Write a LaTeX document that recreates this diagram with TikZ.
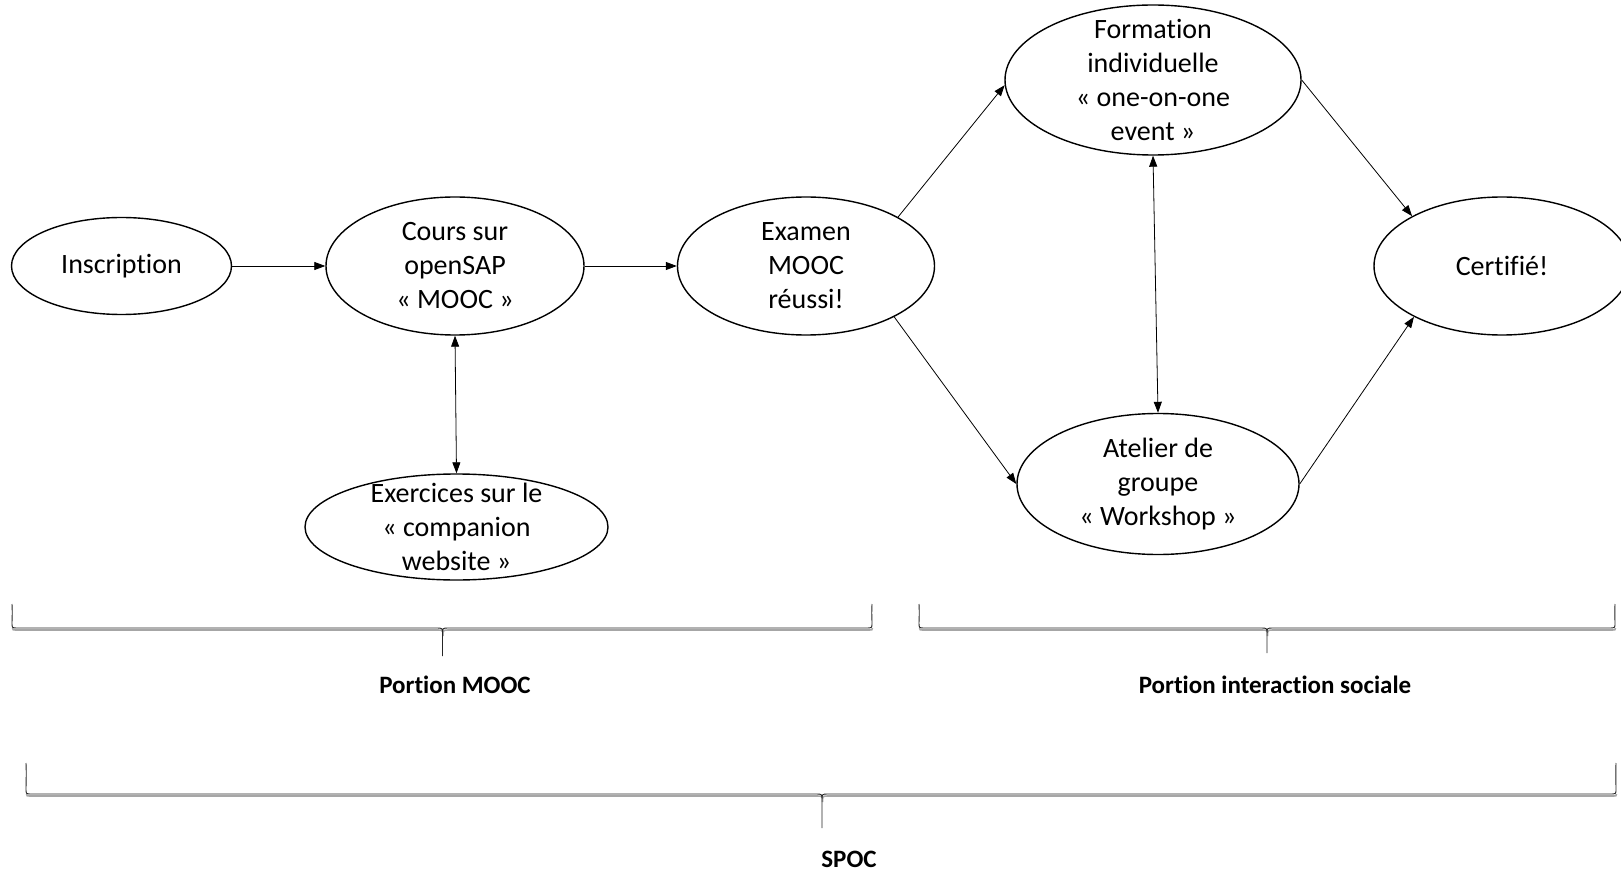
\documentclass[tikz,border=0pt]{standalone}
\usepackage{fontspec}
\setmainfont{Carlito}[Ligatures={NoCommon},RawFeature={-liga;-clig}]
\usetikzlibrary{shapes.geometric,arrows.meta}
\tikzset{
  state/.style={ellipse,draw,line width=1.4pt,inner sep=0pt},
  statetext/.style={align=center,font=\fontsize{28}{34}\selectfont},
  link/.style={line width=0.8pt,-{Triangle[length=11pt,width=8pt]}},
  both/.style={line width=0.8pt,{Triangle[length=11pt,width=8pt]}-{Triangle[length=11pt,width=8pt]}},
  bracket/.style={line width=0.9pt,black!85},
  bracketshade/.style={line width=1.6pt,black!35},
  caption/.style={font=\fontsize{25}{30}\selectfont\bfseries,anchor=base}
}
% horizontal curly bracket: left x, tip x, right x, top y, bar y, tip y
\newcommand\hbrace[6]{%
  \draw[bracketshade,shift={(0.5,2)}] (#1,{#5-2}) .. controls (#1,#5) .. ({#1+6},#5) -- ({#2-6},#5)
     .. controls (#2,#5) .. (#2,{#5+6}) (#2,{#5+6}) .. controls (#2,#5) .. ({#2+6},#5)
     -- ({#3-6},#5) .. controls (#3,#5) .. (#3,{#5-2});
  \draw[bracket] (#1,#4) .. controls ({#1+0.5},{#4+10}) and (#1,{#5-8}) .. (#1,{#5-5})
     .. controls (#1,#5) .. ({#1+6},#5) -- ({#2-6},#5)
     .. controls (#2,#5) .. (#2,{#5+6}) -- (#2,#6) -- (#2,{#5+6})
     .. controls (#2,#5) .. ({#2+6},#5) -- ({#3-6},#5)
     .. controls (#3,#5) .. (#3,{#5-5}) .. controls (#3,{#5-8}) and ({#3-0.5},{#4+10}) .. (#3,#4);
}
\begin{document}
\begin{tikzpicture}[x=1pt,y=-1pt]
\useasboundingbox (0,0) rectangle (1621,874);

% flow states
\node[state,minimum width=220pt,minimum height=97pt,
  label={[statetext]center:Inscription}] (ins) at (121.5,266) {};
\node[state,minimum width=258pt,minimum height=138pt,
  label={[statetext]center:Cours sur\\openSAP\\« MOOC »}] (cours) at (455,266) {};
\node[state,minimum width=257pt,minimum height=138pt,
  label={[statetext]center:Examen\\MOOC\\réussi!}] (exam) at (806,266) {};
\node[state,minimum width=303pt,minimum height=106pt,
  label={[statetext]center:Exercices sur le\\« companion\\website »}] (exo) at (456.5,527) {};
\node[state,minimum width=296pt,minimum height=150pt,
  label={[statetext]center:Formation\\individuelle\\« one-on-one\\event »}] (form) at (1153,80) {};
\node[state,minimum width=282pt,minimum height=141pt,
  label={[statetext]center:Atelier de\\groupe\\« Workshop »}] (atel) at (1158,484) {};
\node[state,minimum width=256pt,minimum height=138pt,
  label={[statetext]center:Certifié!}] (cert) at (1502,266) {};

% connectors
\draw[link] (ins.east) -- (cours.west);
\draw[link] (cours.east) -- (exam.west);
\draw[both] (cours.south) -- (exo.north);
\draw[link] (exam.28) -- (form.182);
\draw[link] (exam.-30) -- (atel.west);
\draw[both] (form.south) -- (atel.north);
\draw[link] (form.east) -- (cert.151);
\draw[link] (atel.east) -- (cert.210);

% grouping brackets
\hbrace{12}{442.5}{872}{604}{628}{656}
\hbrace{919}{1267}{1615}{604}{628}{653}
\hbrace{26}{822}{1616}{763}{794}{828}

\node[caption] (pmooc) at (455,693) {Portion MOOC};
\node[caption] (psoc) at (1275,693) {Portion interaction sociale};
\node[caption] (spoc) at (849,867) {SPOC};
\end{tikzpicture}
\end{document}
